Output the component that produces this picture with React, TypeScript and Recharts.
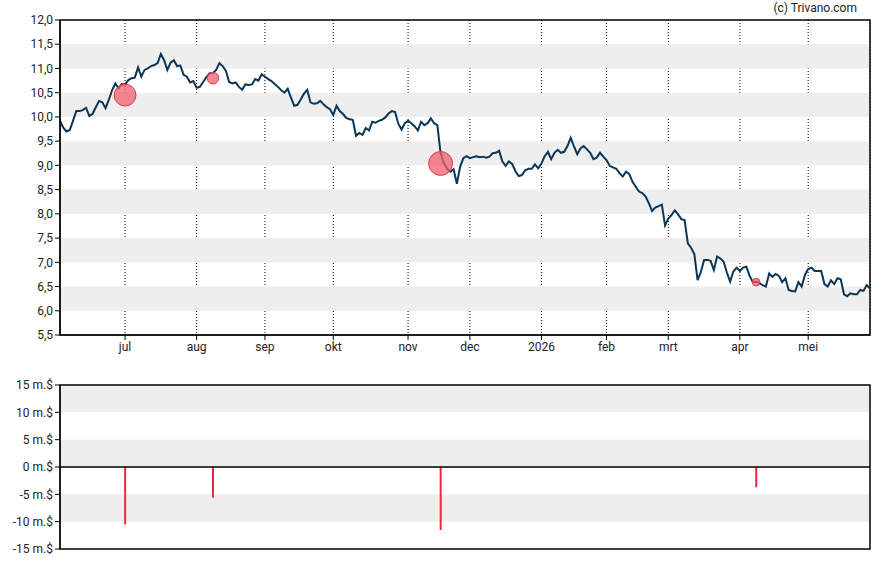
import React from 'react';
import {
  ComposedChart, Line, Scatter, Bar, XAxis, YAxis, CartesianGrid, ReferenceArea, ReferenceLine,
} from 'recharts';

// Closing prices per trading day (index 0..249)
const prices: number[] = [
  9.92, 9.78, 9.70, 9.73, 9.92, 10.12, 10.12, 10.14, 10.19, 10.02,
  10.06, 10.20, 10.33, 10.30, 10.18, 10.35, 10.55, 10.69, 10.59, 10.68,
  10.67, 10.76, 10.80, 10.81, 11.02, 10.83, 10.97, 11.00, 11.05, 11.07,
  11.11, 11.30, 11.17, 10.97, 11.12, 11.17, 11.05, 11.06, 10.87, 10.83,
  10.71, 10.74, 10.60, 10.62, 10.72, 10.82, 10.90, 10.90, 10.97, 11.11,
  11.05, 10.95, 10.72, 10.69, 10.71, 10.62, 10.56, 10.67, 10.66, 10.67,
  10.78, 10.75, 10.88, 10.83, 10.78, 10.74, 10.68, 10.62, 10.55, 10.50,
  10.58, 10.40, 10.23, 10.25, 10.36, 10.48, 10.56, 10.30, 10.27, 10.28,
  10.33, 10.26, 10.20, 10.16, 10.04, 10.23, 10.12, 10.06, 9.98, 9.95,
  9.94, 9.61, 9.67, 9.63, 9.77, 9.72, 9.90, 9.88, 9.92, 9.94,
  9.99, 10.07, 10.12, 10.10, 9.86, 9.74, 9.87, 9.92, 9.87, 9.81,
  9.72, 9.90, 9.83, 9.87, 9.97, 9.87, 9.83, 9.25, 9.05, 8.93,
  8.87, 8.92, 8.62, 8.97, 9.15, 9.19, 9.15, 9.17, 9.19, 9.17,
  9.18, 9.16, 9.18, 9.25, 9.26, 9.30, 9.08, 8.99, 9.08, 9.03,
  8.88, 8.78, 8.80, 8.90, 8.93, 8.93, 9.02, 8.94, 9.04, 9.19,
  9.28, 9.13, 9.26, 9.32, 9.26, 9.28, 9.40, 9.57, 9.39, 9.23,
  9.35, 9.40, 9.33, 9.26, 9.13, 9.16, 9.26, 9.18, 9.11, 8.99,
  8.96, 8.93, 8.84, 8.77, 8.87, 8.82, 8.66, 8.56, 8.46, 8.43,
  8.36, 8.22, 8.06, 8.13, 8.16, 8.19, 7.76, 7.90, 7.98, 8.07,
  7.99, 7.89, 7.87, 7.39, 7.30, 7.17, 6.63, 6.80, 7.05, 7.05,
  7.03, 6.84, 7.12, 7.08, 7.01, 6.79, 6.60, 6.81, 6.89, 6.82,
  6.89, 6.91, 6.72, 6.59, 6.60, 6.57, 6.53, 6.50, 6.77, 6.70,
  6.76, 6.72, 6.59, 6.67, 6.43, 6.41, 6.40, 6.59, 6.50, 6.74,
  6.86, 6.89, 6.82, 6.82, 6.82, 6.55, 6.50, 6.63, 6.55, 6.67,
  6.65, 6.34, 6.30, 6.36, 6.34, 6.34, 6.43, 6.41, 6.53, 6.46,
];

// Insider transactions: trading-day index, price, value (million $)
const eventIdx: number[] = [20, 47, 117, 214];
const eventPrice: number[] = [10.45, 10.80, 9.04, 6.59];
const eventFlow: number[] = [-10.5, -5.6, -11.5, -3.7];

// Month tick labels and their trading-day index
const monthLabels: string[] = ['jul', 'aug', 'sep', 'okt', 'nov', 'dec', '2026', 'feb', 'mrt', 'apr', 'mei'];
const monthIdx: number[] = [20, 42, 63, 84, 107, 126, 148, 168, 187, 209, 230];

const priceTicks: number[] = [5.5, 6, 6.5, 7, 7.5, 8, 8.5, 9, 9.5, 10, 10.5, 11, 11.5, 12];
const priceBands: [number, number][] = [[6, 6.5], [7, 7.5], [8, 8.5], [9, 9.5], [10, 10.5], [11, 11.5]];
const flowTicks: number[] = [-15, -10, -5, 0, 5, 10, 15];
const flowBands: [number, number][] = [[-10, -5], [0, 5], [10, 15]];

const priceData = prices.map((p, i) => ({ i, price: p }));
const markerData = eventIdx.map((i, k) => ({ i, price: eventPrice[k], flow: eventFlow[k] }));
const flowData = eventIdx.map((i, k) => ({ i, flow: eventFlow[k] }));

const N = prices.length;
const FONT = 'Roboto, "Liberation Sans", Arial, sans-serif';
const tickStyle = { fontSize: 12, fill: '#222', fontFamily: FONT };

const Bubble = (props: any) => {
  const { cx, cy, payload } = props;
  if (cx == null || cy == null) return null;
  const r = Math.abs(payload.flow) * 1.04;
  return <circle cx={cx} cy={cy} r={r} fill="#f0606e" fillOpacity={0.75} stroke="#e8384a" strokeWidth={1} />;
};

export default function App() {
  return (
    <div style={{ position: 'absolute', left: 0, top: 0, width: 888, height: 565, background: '#fff' }}>
      <div style={{ position: 'absolute', right: 31, top: 1, fontSize: 12, fontFamily: FONT, color: '#222' }}>
        (c) Trivano.com
      </div>
      <div style={{ position: 'absolute', left: 0, top: 0 }}>
        <ComposedChart width={888} height={360} data={priceData} margin={{ top: 20, right: 18, left: 0, bottom: 0 }}>
          {priceBands.map(([a, b]) => (
            <ReferenceArea key={a} y1={a} y2={b} fill="#eeeeee" fillOpacity={1} stroke="none" />
          ))}
          <CartesianGrid horizontal={false} vertical stroke="#000" strokeDasharray="1 2" />
          <XAxis
            dataKey="i"
            type="number"
            domain={[0, N - 1]}
            ticks={monthIdx}
            interval={0}
            tickFormatter={(v: number) => monthLabels[monthIdx.indexOf(v)]}
            tick={tickStyle}
            tickSize={5}
            stroke="#000"
            height={25}
            allowDataOverflow
          />
          <YAxis
            type="number"
            domain={[5.5, 12]}
            ticks={priceTicks}
            interval={0}
            tickFormatter={(v: number) => v.toFixed(1).replace('.', ',')}
            tick={tickStyle}
            tickSize={5}
            stroke="#000"
            width={60}
            allowDataOverflow
          />
          <ReferenceArea x1={0} x2={N - 1} y1={5.5} y2={12} fill="none" stroke="#000" strokeWidth={1.5} />
          <Line dataKey="price" type="linear" stroke="#0c3656" strokeWidth={2} dot={false} isAnimationActive={false} />
          <Scatter data={markerData} dataKey="price" shape={<Bubble />} isAnimationActive={false} />
        </ComposedChart>
      </div>
      <div style={{ position: 'absolute', left: 0, top: 360 }}>
        <ComposedChart width={888} height={205} data={flowData} margin={{ top: 25, right: 18, left: 0, bottom: 16 }}>
          {flowBands.map(([a, b]) => (
            <ReferenceArea key={a} y1={a} y2={b} fill="#eeeeee" fillOpacity={1} stroke="none" />
          ))}
          <XAxis dataKey="i" type="number" domain={[0, N - 1]} hide />
          <YAxis
            type="number"
            domain={[-15, 15]}
            ticks={flowTicks}
            interval={0}
            tickFormatter={(v: number) => `${v} m.$`}
            tick={tickStyle}
            tickSize={5}
            stroke="#000"
            width={60}
          />
          <ReferenceArea x1={0} x2={N - 1} y1={-15} y2={15} fill="none" stroke="#000" strokeWidth={1.5} />
          <ReferenceLine y={0} stroke="#000" strokeWidth={1.5} />
          <Bar dataKey="flow" fill="#e8283c" barSize={2} isAnimationActive={false} />
        </ComposedChart>
      </div>
    </div>
  );
}
